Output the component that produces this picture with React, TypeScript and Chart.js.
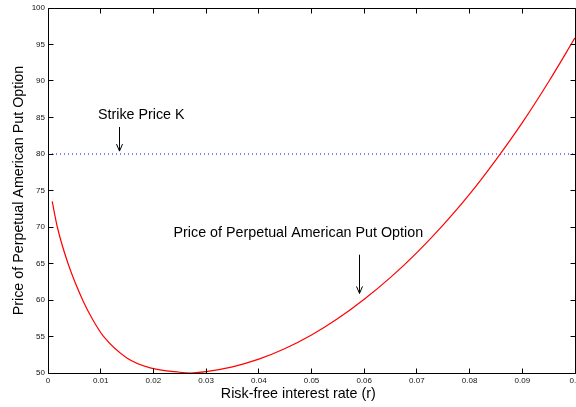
import React, { useEffect, useRef } from "react";
import { Chart, registerables } from "chart.js";

Chart.register(...registerables);

// Risk-free rate (x) and price of the perpetual American put (y)
const rValues = [
  0.0008, 0.00177, 0.0038, 0.0067, 0.0085, 0.0105, 0.0149, 0.0194, 0.025, 0.027,
  0.03, 0.035, 0.04, 0.045, 0.05, 0.055, 0.06, 0.065, 0.07, 0.075, 0.08, 0.085,
  0.09, 0.095, 0.1,
];
const putPrices = [
  73.5, 70.0, 65.0, 59.8, 57.3, 55.05, 52.1, 50.7, 50.1, 50.0,
  50.2, 50.85, 51.9, 53.35, 55.2, 57.45, 60.1, 63.1, 66.5, 70.3, 74.5, 79.2,
  84.3, 89.9, 95.9,
];
const strikeRange = [0, 0.1];
const strikePrice = 80;

const xTitle = "Risk-free interest rate (r)";
const yTitle = "Price of Perpetual American Put Option";
const strikeLabel = "Strike Price K";
const curveLabel = "Price of Perpetual American Put Option";

const FONT = '"Liberation Sans", Arial, Helvetica, sans-serif';

const framePlugin = {
  id: "matlabFrame",
  afterDraw(chart: any) {
    const { ctx, chartArea: a, scales } = chart;
    const xs = scales.x;
    const ys = scales.y;
    const L = Math.floor(a.left) + 0.5;
    const R = Math.floor(a.right) + 0.5;
    const T = Math.floor(a.top) + 0.5;
    const B = Math.floor(a.bottom) + 0.5;
    ctx.save();
    ctx.strokeStyle = "#000";
    ctx.lineWidth = 1;
    ctx.beginPath();
    ctx.rect(L, T, R - L, B - T);
    ctx.stroke();

    // inward tick marks on all four sides
    const tl = 5;
    ctx.beginPath();
    xs.ticks.forEach((t: any) => {
      const px = Math.floor(xs.getPixelForValue(t.value)) + 0.5;
      ctx.moveTo(px, B);
      ctx.lineTo(px, B - tl);
      ctx.moveTo(px, T);
      ctx.lineTo(px, T + tl);
    });
    ys.ticks.forEach((t: any) => {
      const py = Math.floor(ys.getPixelForValue(t.value)) + 0.5;
      ctx.moveTo(L, py);
      ctx.lineTo(L + tl, py);
      ctx.moveTo(R, py);
      ctx.lineTo(R - tl, py);
    });
    ctx.stroke();

    // annotations
    ctx.fillStyle = "#000";
    ctx.font = `14.3px ${FONT}`;
    ctx.textAlign = "center";
    ctx.textBaseline = "middle";
    ctx.fillText(strikeLabel, xs.getPixelForValue(0.0177), ys.getPixelForValue(85.4));
    ctx.fillText(curveLabel, xs.getPixelForValue(0.0475), ys.getPixelForValue(69.2));

    const arrow = (xv: number, y1v: number, y2v: number) => {
      const px = Math.floor(xs.getPixelForValue(xv)) + 0.5;
      const p1 = ys.getPixelForValue(y1v);
      const p2 = ys.getPixelForValue(y2v);
      ctx.beginPath();
      ctx.moveTo(px, p1);
      ctx.lineTo(px, p2);
      ctx.moveTo(px - 3, p2 - 7);
      ctx.lineTo(px, p2);
      ctx.lineTo(px + 3, p2 - 7);
      ctx.stroke();
    };
    arrow(0.01366, 83.7, 80.4);
    arrow(0.0592, 66.2, 60.9);

    // axis titles
    ctx.fillText(xTitle, xs.getPixelForValue(0.0475), a.bottom + 21.5);
    ctx.save();
    ctx.translate(a.left - 29, (a.top + a.bottom) / 2);
    ctx.rotate(-Math.PI / 2);
    ctx.fillText(yTitle, 0, 0);
    ctx.restore();
    ctx.restore();
  },
};

export default function App() {
  const ref = useRef<HTMLCanvasElement>(null);

  useEffect(() => {
    if (!ref.current) return;
    const tickFont = { size: 8, family: FONT };
    const chart = new Chart(ref.current, {
      type: "line",
      data: {
        datasets: [
          {
            data: rValues.map((r, i) => ({ x: r, y: putPrices[i] })),
            borderColor: "#ff0000",
            borderWidth: 1.2,
            pointRadius: 0,
            cubicInterpolationMode: "monotone",
          },
          {
            data: strikeRange.map((r) => ({ x: r, y: strikePrice })),
            borderColor: "#0000ff",
            borderWidth: 1,
            borderDash: [1, 3],
            pointRadius: 0,
          },
        ],
      },
      options: {
        responsive: false,
        animation: false,
        layout: { padding: { top: 8, right: 25, left: 0, bottom: 0 } },
        plugins: { legend: { display: false }, tooltip: { enabled: false } },
        events: [],
        scales: {
          x: {
            type: "linear",
            min: 0,
            max: 0.1,
            grid: { display: false, drawTicks: false, tickLength: 0 },
            border: { display: false },
            ticks: {
              stepSize: 0.01,
              autoSkip: false,
              maxRotation: 0,
              padding: 3,
              color: "#111",
              font: tickFont,
              callback: (v: any) => String(Number(Number(v).toFixed(2))),
            },
            afterFit: (s: any) => {
              s.height = 34;
            },
          },
          y: {
            type: "linear",
            min: 50,
            max: 100,
            grid: { display: false, drawTicks: false, tickLength: 0 },
            border: { display: false },
            ticks: {
              stepSize: 5,
              padding: 3,
              color: "#111",
              font: tickFont,
            },
            afterFit: (s: any) => {
              s.width = 48;
            },
          },
        },
      } as any,
      plugins: [framePlugin],
    });
    return () => chart.destroy();
  }, []);

  return (
    <div
      style={{
        position: "absolute",
        left: 0,
        top: 0,
        width: 576,
        height: 407,
        overflow: "hidden",
        background: "#fff",
      }}
    >
      <canvas ref={ref} width={600} height={407} style={{ display: "block" }} />
    </div>
  );
}
